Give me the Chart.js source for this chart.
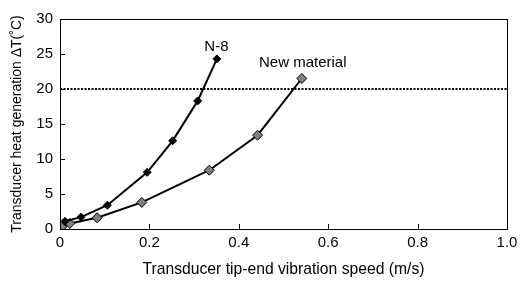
<!DOCTYPE html>
<html>
<head>
<meta charset="utf-8">
<script src="https://cdn.jsdelivr.net/npm/chart.js"></script>
<style>
  html, body { margin: 0; padding: 0; background: #fff; }
  #wrap { width: 523px; height: 281px; }
</style>
</head>
<body>
<div id="wrap"><canvas id="heatChart" width="523" height="281"></canvas></div>
<script>
  // values
  const n8Speed = [0.011, 0.047, 0.106, 0.195, 0.252, 0.308, 0.351];
  const n8Heat = [1.1, 1.7, 3.4, 8.1, 12.6, 18.3, 24.3];
  const newSpeed = [0.004, 0.022, 0.083, 0.183, 0.334, 0.442, 0.541];
  const newHeat = [0.3, 0.8, 1.6, 3.8, 8.4, 13.4, 21.5];
  const limitLine = [20, 20];
  const limitSpeed = [0, 1];
  const xTicks = [0, 0.2, 0.4, 0.6, 0.8, 1.0];
  const yTicks = [0, 5, 10, 15, 20, 25, 30];
  const curveLabels = [
    { text: "N-8", x: 0.350, y: 26.0 },
    { text: "New material", x: 0.543, y: 23.8 },
  ];

  const font = "Liberation Sans, Arial, sans-serif";

  function pts(xs, ys) {
    return xs.map((x, i) => ({ x: x, y: ys[i] }));
  }

  // box, inward ticks and curve labels
  const decor = {
    id: "decor",
    afterDatasetsDraw(chart) {
      const ctx = chart.ctx;
      const a = chart.chartArea;
      const xs = chart.scales.x;
      const ys = chart.scales.y;
      ctx.save();
      ctx.strokeStyle = "#000";
      ctx.lineWidth = 1;
      ctx.strokeRect(a.left + 0.5, a.top + 0.5, a.right - a.left, a.bottom - a.top);
      ctx.beginPath();
      xTicks.slice(1, -1).forEach((v) => {
        const px = Math.round(xs.getPixelForValue(v)) + 0.5;
        ctx.moveTo(px, a.bottom);
        ctx.lineTo(px, a.bottom - 5);
      });
      yTicks.slice(1, -1).forEach((v) => {
        const py = Math.round(ys.getPixelForValue(v)) + 0.5;
        ctx.moveTo(a.left, py);
        ctx.lineTo(a.left + 5, py);
      });
      ctx.stroke();
      ctx.fillStyle = "#000";
      ctx.font = "15px " + font;
      ctx.textAlign = "center";
      ctx.textBaseline = "middle";
      curveLabels.forEach((l) => {
        ctx.fillText(l.text, xs.getPixelForValue(l.x), ys.getPixelForValue(l.y));
      });
      ctx.restore();
    },
  };

  new Chart(document.getElementById("heatChart"), {
    type: "scatter",
    data: {
      datasets: [
        {
          label: "limit",
          data: pts(limitSpeed, limitLine),
          showLine: true,
          borderColor: "#000",
          borderWidth: 2,
          borderDash: [2, 1.5],
          pointRadius: 0,
        },
        {
          label: "N-8",
          data: pts(n8Speed, n8Heat),
          showLine: true,
          borderColor: "#000",
          borderWidth: 2,
          pointStyle: "rectRot",
          pointRadius: 4,
          pointBackgroundColor: "#000",
          pointBorderColor: "#000",
          pointBorderWidth: 1,
        },
        {
          label: "New material",
          data: pts(newSpeed, newHeat),
          showLine: true,
          borderColor: "#000",
          borderWidth: 2,
          pointStyle: "rectRot",
          pointRadius: 5,
          pointBackgroundColor: "#808080",
          pointBorderColor: "#000",
          pointBorderWidth: 1,
        },
      ],
    },
    options: {
      responsive: false,
      animation: false,
      layout: { padding: { top: 19, right: 16, left: 9, bottom: 2 } },
      plugins: { legend: { display: false }, tooltip: { enabled: false } },
      scales: {
        x: {
          type: "linear",
          min: 0,
          max: 1,
          afterBuildTicks: (s) => { s.ticks = xTicks.map((v) => ({ value: v })); },
          afterFit: (s) => { s.height = 50; },
          grid: { display: false, drawTicks: false },
          border: { display: false },
          ticks: {
            color: "#000",
            font: { family: font, size: 15 },
            padding: 5,
            callback: (v) => (v === 0 ? "0" : v.toFixed(1)),
          },
          title: {
            display: true,
            text: "Transducer tip-end vibration speed (m/s)",
            color: "#000",
            font: { family: font, size: 15.7 },
            padding: { top: 5, bottom: 0 },
          },
        },
        y: {
          type: "linear",
          min: 0,
          max: 30,
          afterBuildTicks: (s) => { s.ticks = yTicks.map((v) => ({ value: v })); },
          afterFit: (s) => { s.width = 51; },
          grid: { display: false, drawTicks: false },
          border: { display: false },
          ticks: {
            color: "#000",
            font: { family: font, size: 15 },
            padding: 7,
          },
          title: {
            display: true,
            text: "Transducer heat generation \u0394T(\u02DAC)",
            color: "#000",
            font: { family: font, size: 14 },
            padding: { top: 0, bottom: 2 },
          },
        },
      },
    },
    plugins: [decor],
  });
</script>
</body>
</html>
